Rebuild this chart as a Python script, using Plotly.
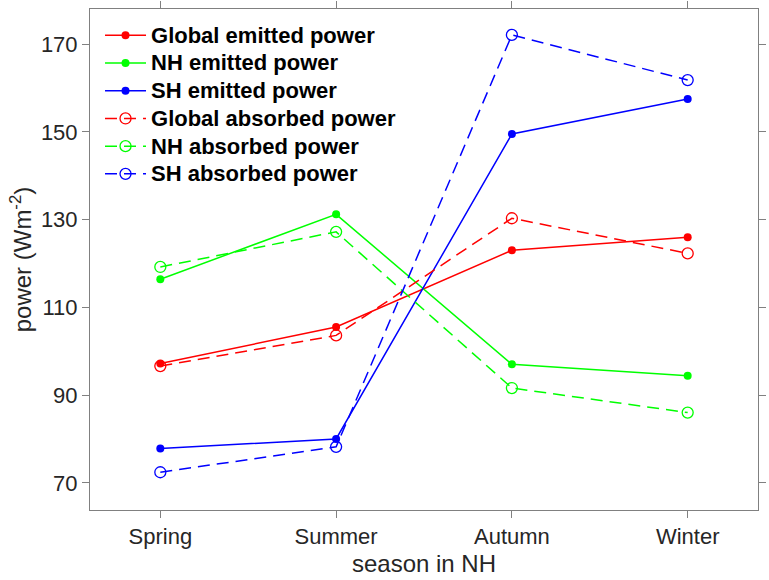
import plotly.graph_objects as go

seasons = ["Spring", "Summer", "Autumn", "Winter"]
x_pos = [0, 1, 2, 3]

global_emitted = [97.2, 105.5, 123.0, 126.0]
nh_emitted = [116.4, 131.2, 97.0, 94.4]
sh_emitted = [77.8, 80.0, 149.5, 157.5]
global_absorbed = [96.6, 103.6, 130.3, 122.3]
nh_absorbed = [119.2, 127.2, 91.6, 86.0]
sh_absorbed = [72.4, 78.2, 172.1, 161.8]

y_ticks = [70, 90, 110, 130, 150, 170]

series = [
    ("Global emitted power", global_emitted, "#ff0000", True),
    ("NH emitted power", nh_emitted, "#00ff00", True),
    ("SH emitted power", sh_emitted, "#0000ff", True),
    ("Global absorbed power", global_absorbed, "#ff0000", False),
    ("NH absorbed power", nh_absorbed, "#00ff00", False),
    ("SH absorbed power", sh_absorbed, "#0000ff", False),
]

def legend_label(s):
    return "<span style='font-size:22px'><b>" + s + "</b></span>"

fig = go.Figure()
for name, vals, col, filled in series:
    if filled:
        fig.add_trace(go.Scatter(
            x=x_pos, y=vals, name=legend_label(name), mode="lines+markers",
            line=dict(color=col, width=1.5),
            marker=dict(symbol="circle", size=8, color=col),
        ))
    else:
        fig.add_trace(go.Scatter(
            x=x_pos, y=vals, name=legend_label(name), mode="lines+markers",
            line=dict(color=col, width=1.5, dash="12px,7px"),
            marker=dict(symbol="circle-open", size=11, color=col, line=dict(width=1.3, color=col)),
        ))

axis_common = dict(
    showline=True, linecolor="#808080", linewidth=1, mirror="ticks",
    ticks="outside", ticklen=7, tickcolor="#808080", tickwidth=1,
    showgrid=False, zeroline=False, automargin=False,
    tickfont=dict(family="Liberation Sans, Arial, sans-serif", size=22, color="#262626"),
)

fig.update_layout(
    width=769, height=580,
    margin=dict(l=90, r=11, t=9, b=70),
    paper_bgcolor="white", plot_bgcolor="white",
    font=dict(family="Liberation Sans, Arial, sans-serif", color="#262626"),
    xaxis=dict(
        range=[-0.4, 3.4], tickvals=x_pos, ticktext=seasons,
        title=dict(text="season in NH", font=dict(size=24, color="#262626"), standoff=6),
        **axis_common,
    ),
    yaxis=dict(
        range=[63.8, 178], tickvals=y_ticks,
        title=dict(text="power (Wm<sup>-2</sup>)", font=dict(size=24, color="#262626"), standoff=2),
        **axis_common,
    ),
    legend=dict(
        x=0.015, y=0.985, xanchor="left", yanchor="top",
        bgcolor="rgba(255,255,255,0)", borderwidth=0,
        font=dict(family="Liberation Sans, Arial, sans-serif", size=19, color="black", weight="bold"),
        tracegroupgap=0, itemwidth=41,
    ),
    showlegend=True,
)

fig.write_html(
    "out.html",
    config={"displayModeBar": False},
    post_script="document.body.style.margin='0';document.body.style.padding='0';",
)
